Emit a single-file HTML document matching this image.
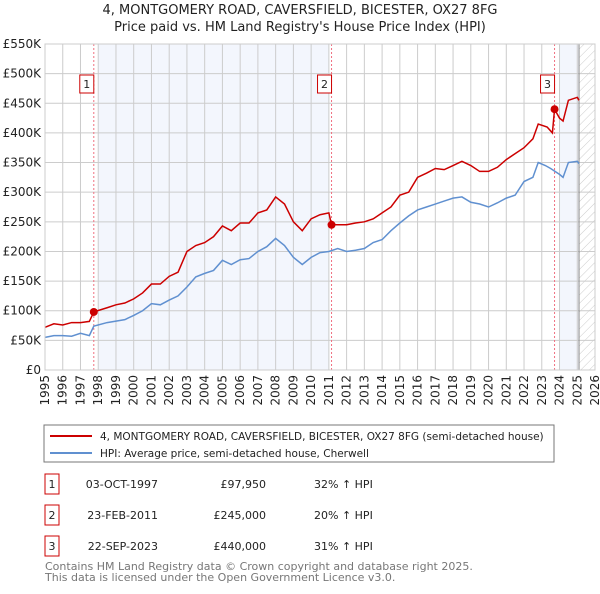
<!DOCTYPE html>
<html><head><meta charset="utf-8"><style>
body{margin:0;background:#fff;width:600px;height:590px;overflow:hidden;font-family:"DejaVu Sans","Liberation Sans",sans-serif;}
svg text{font-family:"DejaVu Sans","Liberation Sans",sans-serif;}
</style></head><body>
<svg id="c" width="600" height="590" xmlns="http://www.w3.org/2000/svg">
<defs><pattern id="hatch" width="6" height="6" patternUnits="userSpaceOnUse" patternTransform="rotate(45)"><line x1="0" y1="0" x2="0" y2="6" stroke="#ccc" stroke-width="1"/></pattern></defs>
<text x="300" y="14" text-anchor="middle" font-size="13" fill="#222">4, MONTGOMERY ROAD, CAVERSFIELD, BICESTER, OX27 8FG</text>
<text x="300" y="31" text-anchor="middle" font-size="13" fill="#222">Price paid vs. HM Land Registry's House Price Index (HPI)</text>
<g id="plot"></g>
<rect x="44" y="425" width="510" height="37" fill="#fff" stroke="#777"/>
<line x1="50" y1="436" x2="92" y2="436" stroke="#cc0000" stroke-width="2"/>
<text x="100" y="440" font-size="10.5" fill="#222">4, MONTGOMERY ROAD, CAVERSFIELD, BICESTER, OX27 8FG (semi-detached house)</text>
<line x1="50" y1="453" x2="92" y2="453" stroke="#6090d0" stroke-width="2"/>
<text x="100" y="457" font-size="10.5" fill="#222">HPI: Average price, semi-detached house, Cherwell</text>
<g id="tbl" font-size="11" fill="#222"></g>
<text x="45" y="570" font-size="11" fill="#777">Contains HM Land Registry data © Crown copyright and database right 2025.</text>
<text x="45" y="581" font-size="11" fill="#777">This data is licensed under the Open Government Licence v3.0.</text>
</svg>
<script>
const yTicks=[0,50000,100000,150000,200000,250000,300000,350000,400000,450000,500000,550000];
const yTickLabels=["£0","£50K","£100K","£150K","£200K","£250K","£300K","£350K","£400K","£450K","£500K","£550K"];
const years=[1995,1996,1997,1998,1999,2000,2001,2002,2003,2004,2005,2006,2007,2008,2009,2010,2011,2012,2013,2014,2015,2016,2017,2018,2019,2020,2021,2022,2023,2024,2025,2026];
const hpiT=[1995,1995.5,1996,1996.5,1997,1997.5,1997.75,1998.5,1999.5,2000,2000.5,2001,2001.5,2002,2002.5,2003,2003.5,2004,2004.5,2005,2005.5,2006,2006.5,2007,2007.5,2008,2008.5,2009,2009.5,2010,2010.5,2011,2011.5,2012,2012.5,2013,2013.5,2014,2014.5,2015,2015.5,2016,2016.5,2017,2017.5,2018,2018.5,2019,2019.5,2020,2020.5,2021,2021.5,2022,2022.5,2022.8,2023.2,2023.5,2024,2024.2,2024.5,2025,2025.1];
const hpiV=[55000,58000,58000,57000,62000,58000,74000,80000,85000,92000,100000,112000,110000,118000,125000,140000,157000,163000,168000,185000,178000,186000,188000,200000,208000,222000,210000,190000,178000,190000,198000,200000,205000,200000,202000,205000,215000,220000,235000,248000,260000,270000,275000,280000,285000,290000,292000,283000,280000,275000,282000,290000,295000,318000,325000,350000,345000,340000,330000,325000,350000,352000,348000];
const priceT=[1995,1995.5,1996,1996.5,1997,1997.5,1997.75,1998.5,1999,1999.5,2000,2000.5,2001,2001.5,2002,2002.5,2003,2003.5,2004,2004.5,2005,2005.5,2006,2006.5,2007,2007.5,2008,2008.5,2009,2009.5,2010,2010.5,2011,2011.15,2011.5,2012,2012.5,2013,2013.5,2014,2014.5,2015,2015.5,2016,2016.5,2017,2017.5,2018,2018.5,2019,2019.5,2020,2020.5,2021,2021.5,2022,2022.5,2022.8,2023.3,2023.6,2023.72,2024.0,2024.2,2024.5,2025,2025.1];
const priceV=[72000,78000,76000,80000,80000,82000,98000,105000,110000,113000,120000,130000,145000,145000,158000,165000,200000,210000,215000,225000,243000,235000,248000,248000,265000,270000,292000,280000,250000,235000,255000,262000,265000,245000,245000,245000,248000,250000,255000,265000,275000,295000,300000,325000,332000,340000,338000,345000,352000,345000,335000,335000,342000,355000,365000,375000,390000,415000,410000,400000,440000,425000,420000,455000,460000,455000];
const saleT=[1997.75,2011.15,2023.72];
const saleV=[97950,245000,440000];
const saleLabels=["1","2","3"];
const saleDates=["03-OCT-1997","23-FEB-2011","22-SEP-2023"];
const salePrices=["£97,950","£245,000","£440,000"];
const saleHpi=["32% ↑ HPI","20% ↑ HPI","31% ↑ HPI"];
const X0=45,X1=595,Y0=370,Y1=44;
const xs=t=>X0+(t-1995)*(X1-X0)/31;
const ys=v=>Y0-v*(Y0-Y1)/550000;
const NS="http://www.w3.org/2000/svg";
const plot=document.getElementById('plot');
function mk(tag,attrs,parent){const e=document.createElementNS(NS,tag);for(const k in attrs)e.setAttribute(k,attrs[k]);(parent||plot).appendChild(e);return e;}
let e;
e=mk('rect',{x:xs(1998),y:Y1,width:xs(2011)-xs(1998),height:Y0-Y1,fill:'#f3f6fd'});


e=mk('rect',{x:xs(2024),y:Y1,width:xs(2025.1)-xs(2024),height:Y0-Y1,fill:'#f3f6fd'});


e=mk('rect',{x:xs(2025.1),y:Y1,width:X1-xs(2025.1),height:Y0-Y1,fill:'url(#hatch)'});


yTicks.forEach((v,i)=>{
 e=mk('line',{x1:X0,x2:X1,y1:ys(v),y2:ys(v),stroke:'#ccc'});
 
 
 e=mk('text',{x:X0-4,y:ys(v)+4,'text-anchor':'end','font-size':'12',fill:'#222'});
 e.textContent=yTickLabels[i];
 
 
});
years.forEach(y=>{
 e=mk('line',{x1:xs(y),x2:xs(y),y1:Y1,y2:Y0,stroke:'#ccc'});
 
 
 e=mk('text',{x:0,y:0,'text-anchor':'end','font-size':'12',fill:'#222',transform:`translate(${xs(y)+4},${Y0+5}) rotate(-90)`});
 e.textContent=y;
 
 
});
e=mk('line',{x1:xs(2025.1),x2:xs(2025.1),y1:Y1,y2:Y0,stroke:'#888'});


saleT.forEach((t,i)=>{
 e=mk('line',{x1:xs(t),x2:xs(t),y1:Y1,y2:Y0,stroke:'#f07080','stroke-dasharray':'2,2'});
 
 
});
e=mk('polyline',{points:hpiT.map((t,i)=>xs(t)+','+ys(hpiV[i])).join(' '),fill:'none',stroke:'#6090d0','stroke-width':'1.5'});


e=mk('polyline',{points:priceT.map((t,i)=>xs(t)+','+ys(priceV[i])).join(' '),fill:'none',stroke:'#cc0000','stroke-width':'1.5'});


saleT.forEach((t,i)=>{
 e=mk('circle',{cx:xs(t),cy:ys(saleV[i]),r:4,fill:'#cc0000'});
 
 
 e=mk('rect',{x:xs(t)-14,y:75,width:14,height:18,fill:'#fff',stroke:'#cc0000'});
 
 
 e=mk('text',{x:xs(t)-7,y:88,'text-anchor':'middle','font-size':'11',fill:'#222'});
 e.textContent=saleLabels[i];
 
 
});
e=mk('rect',{x:X0,y:Y1,width:X1-X0,height:Y0-Y1,fill:'none',stroke:'#ccc'});


const tbl=document.getElementById('tbl');
const rowY=[484,515,546];
saleT.forEach((t,i)=>{
 const y=rowY[i];
 e=mk('rect',{x:45,y:y-10,width:14,height:20,fill:'#fff',stroke:'#cc0000'},tbl);
 
 
 e=mk('text',{x:52,y:y+4,'text-anchor':'middle'},tbl);e.textContent=saleLabels[i];
 
 
 e=mk('text',{x:158,y:y+4,'text-anchor':'end'},tbl);e.textContent=saleDates[i];
 
 
 e=mk('text',{x:266,y:y+4,'text-anchor':'end'},tbl);e.textContent=salePrices[i];
 
 
 e=mk('text',{x:314,y:y+4},tbl);e.textContent=saleHpi[i];
 
 
});
</script>
</body></html>
